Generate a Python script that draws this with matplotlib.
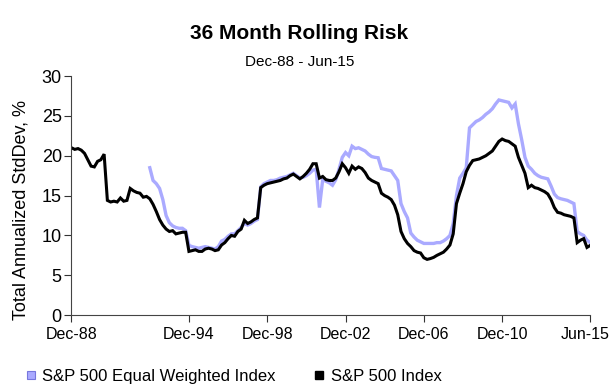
import matplotlib
matplotlib.use('Agg')
import matplotlib.pyplot as plt
from matplotlib.lines import Line2D
import matplotlib.transforms as mtransforms
import numpy as np

plt.rcParams['font.family'] = 'Liberation Sans'

# 36 month rolling annualized std dev, sampled every 2 months from Dec-88
sp500_months = list(range(0, 319, 2))
sp500 = [21.0, 20.8, 20.9, 20.7, 20.3, 19.5, 18.7, 18.6, 19.3, 19.5,
         20.2, 14.4, 14.2, 14.3, 14.2, 14.7, 14.3, 14.4, 15.9, 15.6,
         15.4, 15.3, 14.8, 14.9, 14.6, 13.9, 13.0, 12.0, 11.3, 10.8,
         10.5, 10.6, 10.2, 10.3, 10.4, 10.4, 8.0, 8.1, 8.2, 8.0,
         8.0, 8.3, 8.4, 8.3, 8.1, 8.2, 8.8, 9.1, 9.6, 10.0,
         9.9, 10.5, 10.8, 11.9, 11.5, 11.7, 12.0, 12.2, 16.0, 16.3,
         16.5, 16.6, 16.7, 16.8, 16.9, 17.1, 17.2, 17.5, 17.7, 17.4,
         17.1, 17.4, 17.8, 18.3, 19.0, 19.0, 17.2, 17.4, 17.0, 16.9,
         16.9, 17.2, 18.0, 19.0, 18.5, 17.8, 18.7, 18.3, 18.6, 18.4,
         17.9, 17.2, 16.9, 16.7, 16.5, 15.3, 15.0, 14.8, 14.5, 13.8,
         12.6, 10.5, 9.6, 9.0, 8.6, 8.1, 7.9, 7.8, 7.2, 7.0,
         7.1, 7.25, 7.5, 7.7, 7.9, 8.3, 8.8, 10.2, 14.0, 15.3,
         16.5, 18.0, 18.8, 19.4, 19.5, 19.6, 19.8, 20.0, 20.3, 20.6,
         21.2, 21.8, 22.1, 21.9, 21.8, 21.5, 21.2, 19.8, 18.8, 17.8,
         16.0, 16.3, 16.0, 15.9, 15.7, 15.5, 15.2, 14.5, 13.5, 12.9,
         12.8, 12.6, 12.5, 12.4, 12.2, 9.1, 9.4, 9.6, 8.5, 8.75]

ew_months = list(range(48, 319, 2))
sp500_ew = [18.5, 16.9, 16.5, 15.9, 14.5, 12.5, 11.6, 11.2, 11.0, 10.9,
            10.9, 10.6, 8.75, 8.6, 8.5, 8.4, 8.5, 8.6, 8.5, 8.4,
            8.3, 8.6, 9.3, 9.5, 9.9, 10.2, 10.2, 10.6, 11.0, 11.5,
            11.3, 11.5, 11.8, 12.0, 16.1, 16.5, 16.7, 16.9, 16.9, 17.0,
            17.2, 17.3, 17.4, 17.6, 17.8, 17.5, 17.2, 17.3, 17.5, 17.8,
            18.2, 18.3, 13.5, 17.0, 16.8, 16.6, 16.3, 17.0, 18.3, 19.8,
            20.4, 20.0, 21.2, 20.9, 21.0, 20.8, 20.6, 20.2, 19.9, 19.8,
            19.75, 18.4, 18.3, 18.2, 18.1, 17.5, 16.9, 14.0, 13.0, 12.2,
            10.3, 9.8, 9.4, 9.2, 9.0, 9.0, 9.0, 9.0, 9.1, 9.1,
            9.3, 9.6, 10.0, 11.5, 15.0, 17.2, 17.8, 18.5, 23.5, 23.9,
            24.3, 24.5, 24.8, 25.2, 25.5, 25.9, 26.5, 27.0, 26.9, 26.8,
            26.7, 26.0, 26.5, 24.0, 22.0, 19.8, 18.7, 18.3, 17.8, 17.5,
            17.3, 17.2, 17.1, 16.2, 15.2, 14.75, 14.6, 14.5, 14.4, 14.2,
            14.0, 10.5, 10.2, 10.0, 9.4, 9.1]

tick_months = [0, 72, 120, 168, 216, 264, 318]
tick_labels = ['Dec-88', 'Dec-94', 'Dec-98', 'Dec-02', 'Dec-06', 'Dec-10', 'Jun-15']

blue = '#aaaaff'

fig = plt.figure(figsize=(6.11, 3.92), dpi=100)
ax = fig.add_axes([0.117, 0.196, 0.849, 0.61])

ax.plot(ew_months, sp500_ew, color=blue, lw=2.4, solid_joinstyle='miter')
ax.plot(sp500_months, sp500, color='black', lw=2.2, solid_joinstyle='miter')

ax.set_xlim(0, 318)
ax.set_ylim(0, 30)
ax.set_xticks(tick_months)
ax.set_xticklabels(tick_labels)
ax.set_yticks(np.arange(0, 31, 5))
ax.tick_params(length=5, width=0.8, colors='#333333', labelcolor='black')
ax.tick_params(axis='x', labelsize=11.5)
ax.tick_params(axis='y', labelsize=13, pad=2)
ax.spines['top'].set_visible(False)
ax.spines['right'].set_visible(False)
for s in ['left', 'bottom']:
    ax.spines[s].set_color('#444444')
    ax.spines[s].set_linewidth(0.8)

# pull the last date label in a little so it fits the figure
last = ax.get_xticklabels()[-1]
last.set_transform(last.get_transform() +
                   mtransforms.ScaledTranslation(-5 / 100, 0, fig.dpi_scale_trans))

ax.set_ylabel('Total Annualized StdDev, %', fontsize=13)
ax.yaxis.set_label_coords(-0.08, 0.44)

fig.text(0.49, 0.915, '36 Month Rolling Risk', ha='center', va='center',
         fontsize=15, fontweight='bold')
fig.text(0.49, 0.843, 'Dec-88 - Jun-15', ha='center', va='center', fontsize=11)

handles = [
    Line2D([], [], ls='none', marker='s', markersize=6, markerfacecolor=blue,
           markeredgecolor='#7777dd', markeredgewidth=0.8),
    Line2D([], [], ls='none', marker='s', markersize=6, markerfacecolor='black',
           markeredgecolor='black'),
]
fig.legend(handles, ['S&P 500 Equal Weighted Index', 'S&P 500 Index'],
           loc='center left', bbox_to_anchor=(0.015, 0.04), ncol=2, frameon=False,
           fontsize=12, handlelength=0.8, handletextpad=0.3, columnspacing=2.2)

fig.savefig('out.png', dpi=100)
